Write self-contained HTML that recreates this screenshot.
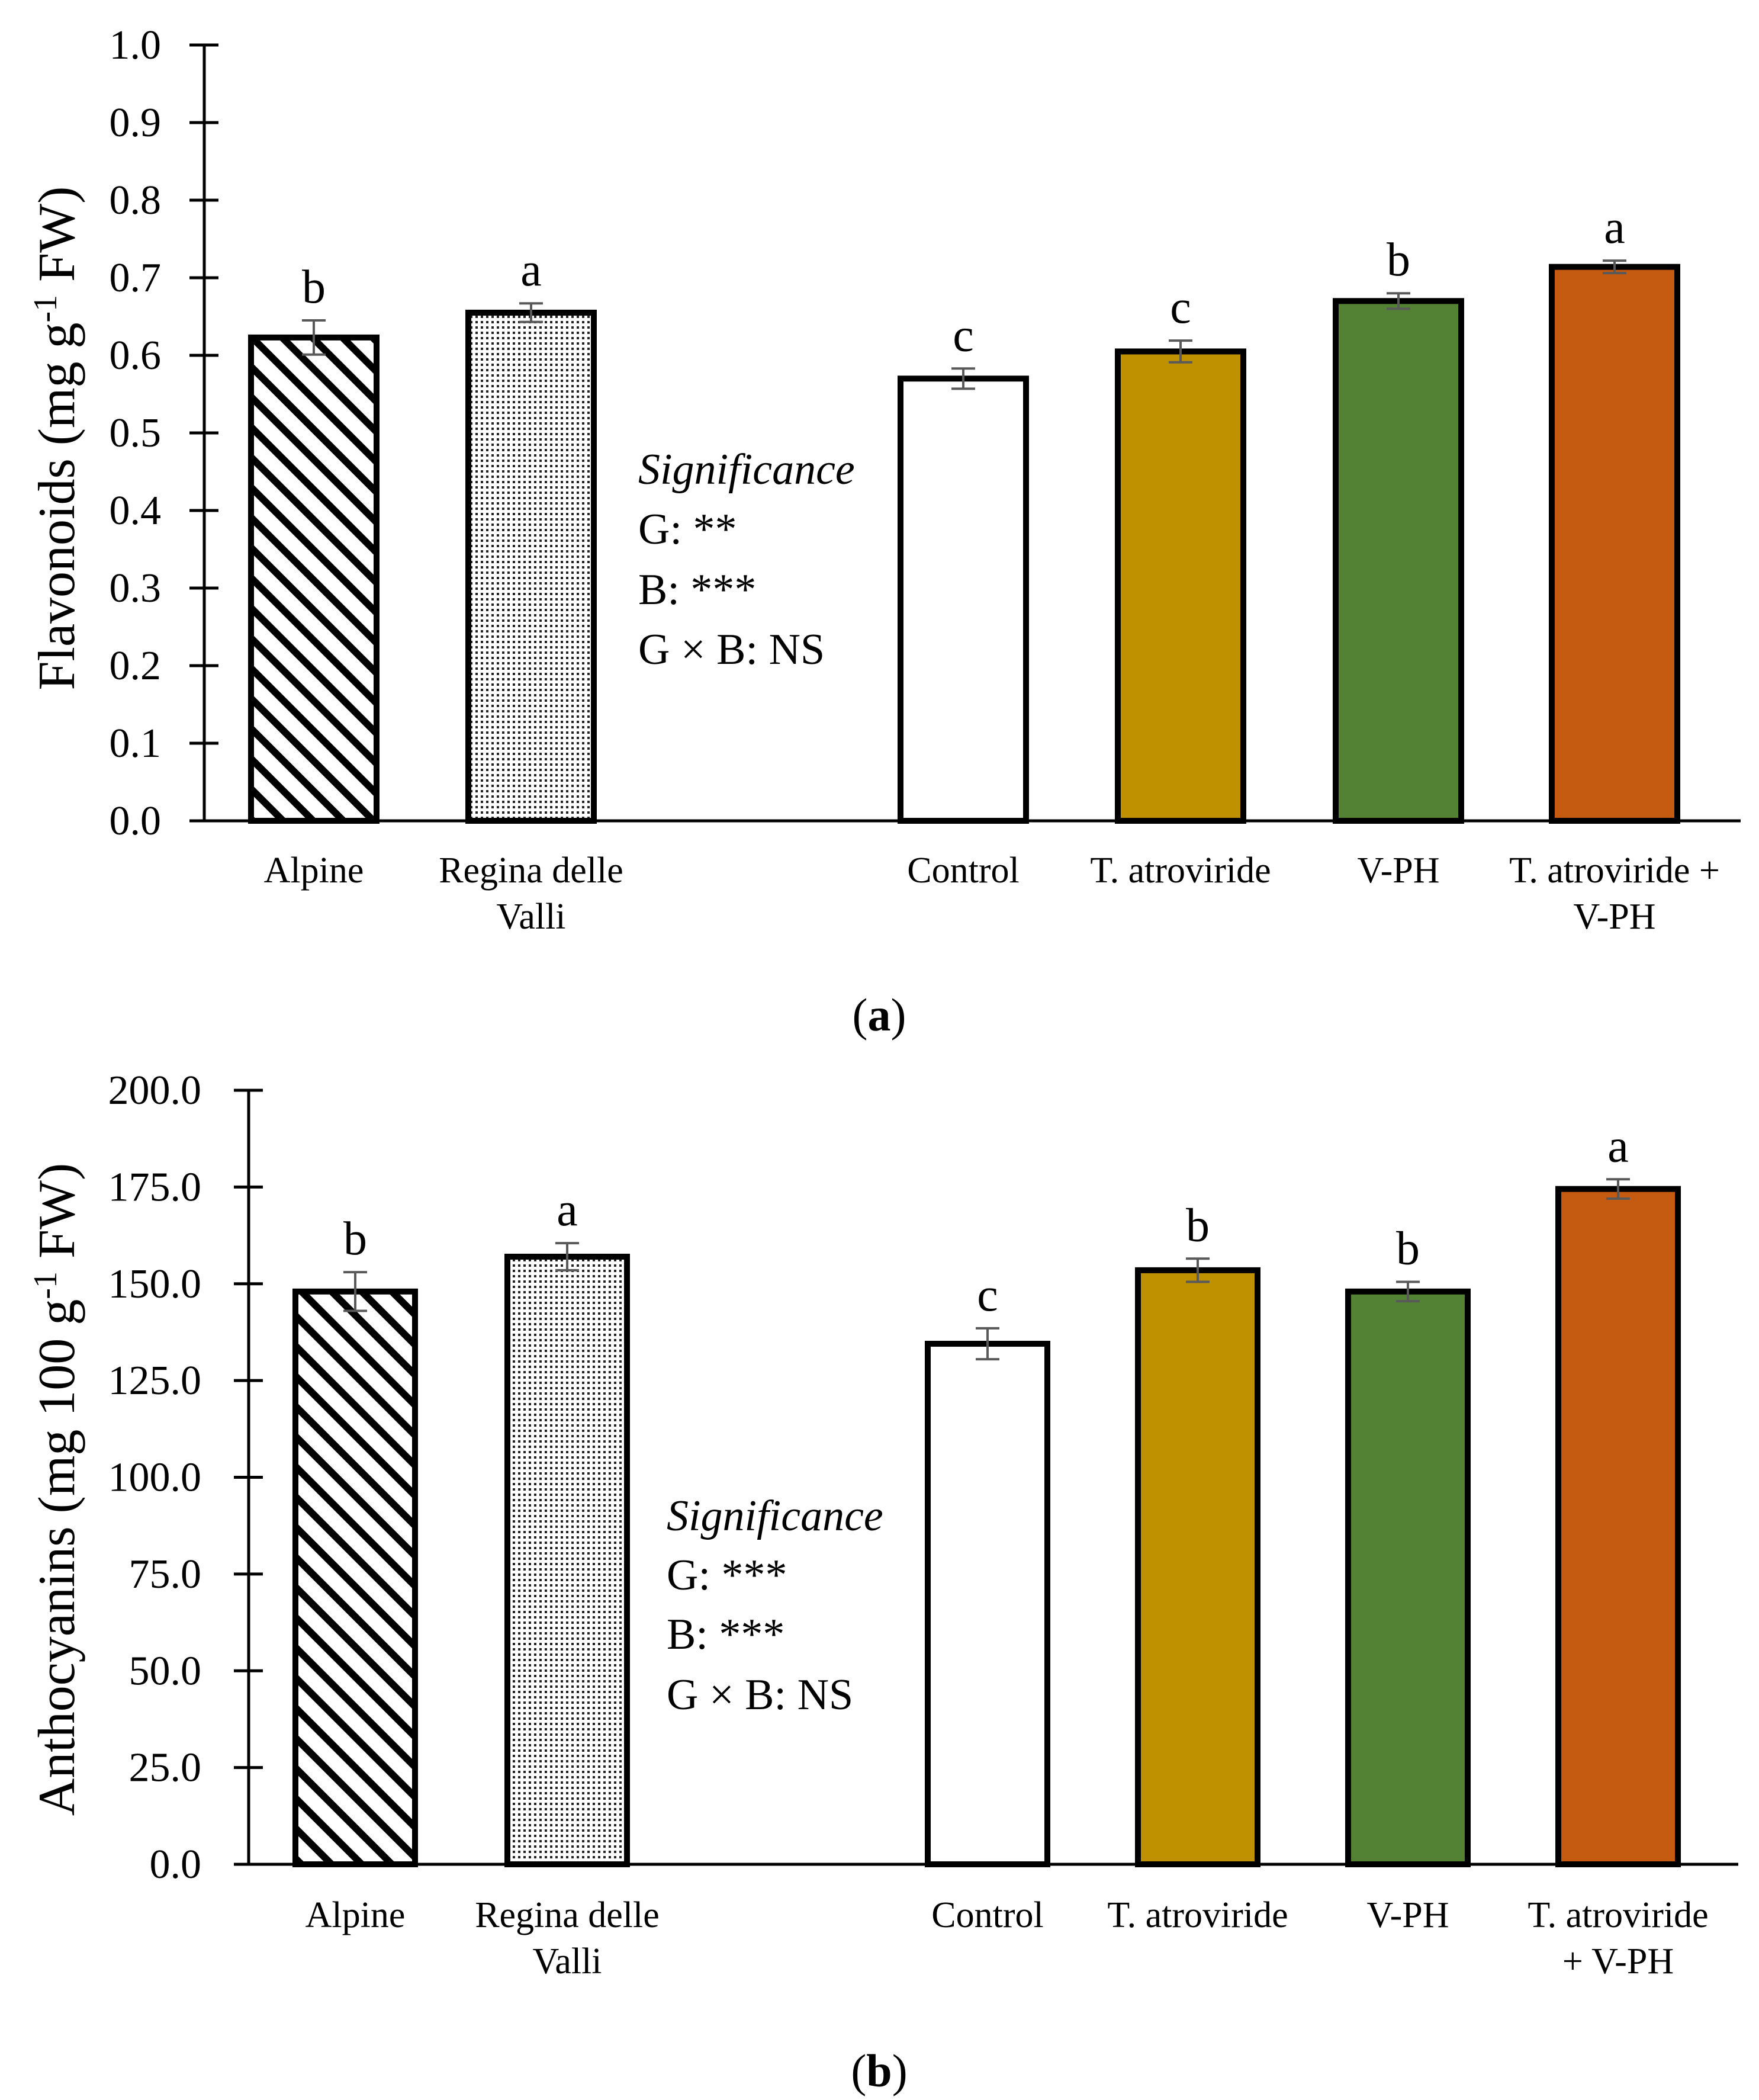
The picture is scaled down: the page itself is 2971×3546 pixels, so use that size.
<!DOCTYPE html>
<html><head><meta charset="utf-8"><style>
html,body{margin:0;padding:0;background:#fff;}
svg{display:block;font-family:"Liberation Serif",serif;}
</style></head><body>
<svg id="fig" width="2971" height="3546" viewBox="0 0 2971 3546" xmlns="http://www.w3.org/2000/svg">
<defs>
<pattern id="hatch" patternUnits="userSpaceOnUse" width="36" height="36" patternTransform="rotate(-45)">
<rect width="36" height="36" fill="#fff"/><rect x="0" y="0" width="12" height="36" fill="#000"/>
</pattern>
<pattern id="dots" patternUnits="userSpaceOnUse" width="9" height="9">
<rect width="9" height="9" fill="#fff"/><rect x="2" y="2" width="4" height="4" fill="#222"/>
</pattern>
</defs>
<g id="chartA"></g>
<g id="chartB"></g>
<text x="1485" y="1740" text-anchor="middle" font-size="78">(<tspan font-weight="bold">a</tspan>)</text>
<text x="1485" y="3523" text-anchor="middle" font-size="78">(<tspan font-weight="bold">b</tspan>)</text>
</svg>
<script>
const NS="http://www.w3.org/2000/svg";
const categoriesLine1=["Alpine","Regina delle","Control","T. atroviride","V-PH","T. atroviride +"];
const categoriesLine2A=["","Valli","","","","V-PH"];
const categoriesLine2B=["","Valli","","","","+ V-PH"];
const categoriesLine1B=["Alpine","Regina delle","Control","T. atroviride","V-PH","T. atroviride"];
const flavValues=[0.623,0.655,0.570,0.605,0.670,0.714];
const flavErrors=[0.022,0.012,0.013,0.014,0.010,0.008];
const flavLetters=["b","a","c","c","b","a"];
const flavTicks=["0.0","0.1","0.2","0.3","0.4","0.5","0.6","0.7","0.8","0.9","1.0"];
const anthValues=[148,157,134.5,153.5,148,174.5];
const anthErrors=[5,3.5,4,3,2.5,2.5];
const anthLetters=["b","a","c","b","b","a"];
const anthTicks=["0.0","25.0","50.0","75.0","100.0","125.0","150.0","175.0","200.0"];
const fills=["url(#hatch)","url(#dots)","#ffffff","#BF9000","#548235","#C55A11"];

function el(tag,attrs,parent,text){const e=document.createElementNS(NS,tag);for(const k in attrs)e.setAttribute(k,attrs[k]);if(text!==undefined)e.textContent=text;parent.appendChild(e);return e;}

function drawChart(g,cfg){
  const y=v=>cfg.y0-(v/cfg.max)*(cfg.y0-cfg.yTop);
  const ax=el("line",{x1:cfg.ax,y1:cfg.yTop,x2:cfg.ax,y2:cfg.y0,stroke:"#000","stroke-width":5},g);
  
  
  const bx=el("line",{x1:cfg.ax-25,y1:cfg.y0,x2:cfg.xEnd,y2:cfg.y0,stroke:"#000","stroke-width":5},g);
  
  
  cfg.ticks.forEach((t,i)=>{
    const v=parseFloat(t);const yy=y(v);
    const tk=el("line",{x1:cfg.ax-25,y1:yy,x2:cfg.ax+24,y2:yy,stroke:"#000","stroke-width":5},g);
    
    
    const tl=el("text",{x:cfg.tickX,y:yy+23,"text-anchor":"end","font-size":70},g,t);
    
    
  });
  const yt=el("text",{x:0,y:0,"text-anchor":"middle","font-size":88,transform:`translate(${cfg.titleX},${cfg.titleY}) rotate(-90)`},g);
  
  
  yt.innerHTML=cfg.title;
  cfg.values.forEach((v,i)=>{
    const x0=cfg.barX[i],w=cfg.barW;
    const r=el("rect",{x:x0,y:y(v),width:w,height:cfg.y0-y(v),fill:fills[i],stroke:"#000","stroke-width":10},g);
    
    
    const cx=x0+w/2,e=cfg.errors[i];
    const eb=el("path",{d:`M${cx},${y(v+e)}V${y(v-e)}M${cx-20},${y(v+e)}H${cx+20}M${cx-20},${y(v-e)}H${cx+20}`,stroke:"#595959","stroke-width":4,fill:"none"},g);
    
    
    const lt=el("text",{x:cx,y:y(v+e)-30,"text-anchor":"middle","font-size":80},g,cfg.letters[i]);
    
    
    const l1=el("text",{x:cx,y:cfg.lab1,"text-anchor":"middle","font-size":62},g,cfg.line1[i]);
    
    
    if(cfg.line2[i]){
      const l2=el("text",{x:cx,y:cfg.lab2,"text-anchor":"middle","font-size":62},g,cfg.line2[i]);
      
      
    }
  });
  const sig=[["Significance",true],[cfg.sig[0],false],[cfg.sig[1],false],["G × B: NS",false]];
  sig.forEach((s,i)=>{
    const t=el("text",{x:cfg.sigX,y:cfg.sigY[i],"font-size":74,"font-style":s[1]?"italic":"normal"},g,s[0]);
    
    
  });
}

drawChart(document.getElementById("chartA"),{
  y0:1386,yTop:76,max:1.0,ax:345,xEnd:2940,tickX:272,
  ticks:flavTicks,values:flavValues,errors:flavErrors,letters:flavLetters,
  barX:[424,791,1521,1888,2256,2621],barW:212,
  line1:categoriesLine1,line2:categoriesLine2A,lab1:1490,lab2:1568,
  title:'Flavonoids (mg g<tspan dy="-30" font-size="56">-1</tspan><tspan dy="30"> FW)</tspan>',titleX:125,titleY:740,
  sig:["G: **","B: ***"],sigX:1078,sigY:[817,918,1020,1121]
});
drawChart(document.getElementById("chartB"),{
  y0:3148,yTop:1841,max:200,ax:420,xEnd:2936,tickX:340,
  ticks:anthTicks,values:anthValues,errors:anthErrors,letters:anthLetters,
  barX:[499,857,1567,1922,2277,2632],barW:202,
  line1:categoriesLine1B,line2:categoriesLine2B,lab1:3254,lab2:3332,
  title:'Anthocyanins (mg 100 g<tspan dy="-30" font-size="56">-1</tspan><tspan dy="30"> FW)</tspan>',titleX:125,titleY:2515,
  sig:["G: ***","B: ***"],sigX:1126,sigY:[2584,2684,2784,2886]
});
</script>
</body></html>
